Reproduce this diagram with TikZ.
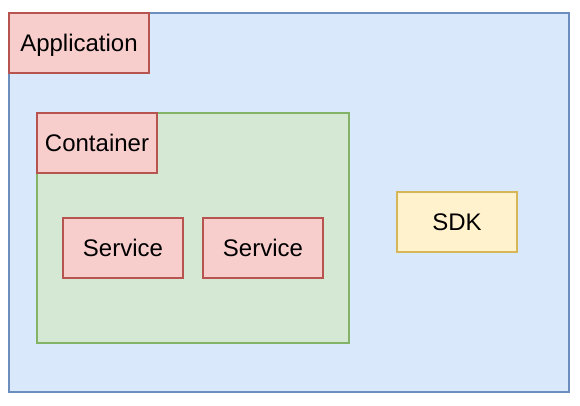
\documentclass[tikz,border=0pt]{standalone}
\usepackage{fontspec}
\setmainfont{Liberation Sans}
\usetikzlibrary{positioning}
\definecolor{blueFill}{HTML}{DAE8FC}
\definecolor{blueLine}{HTML}{6C8EBF}
\definecolor{redFill}{HTML}{F8CECC}
\definecolor{redLine}{HTML}{B85450}
\definecolor{greenFill}{HTML}{D5E8D4}
\definecolor{greenLine}{HTML}{82B366}
\definecolor{yellowFill}{HTML}{FFF2CC}
\definecolor{yellowLine}{HTML}{D6B656}

\begin{document}
\begin{tikzpicture}[x=1pt,y=-1pt,
  box/.style={draw,line width=2pt,inner sep=0pt,outer sep=0pt,minimum width=120pt,minimum height=60pt,
    font=\fontsize{24}{28}\selectfont,text height=17pt,text depth=0pt,anchor=north west},
  redbox/.style={box,draw=redLine,fill=redFill}]
  \useasboundingbox (0,0) rectangle (580,406);
  % アプリケーション全体
  \node[box,draw=blueLine,fill=blueFill,minimum width=560pt,minimum height=379pt] (app) at (9,13) {};
  \node[redbox,minimum width=140pt] (appLabel) at (9,13) {Application};
  % コンテナ
  \node[box,draw=greenLine,fill=greenFill,minimum width=312pt,minimum height=230pt] (container) at (37,113) {};
  \node[redbox] (containerLabel) at (37,113) {Container};
  % サービス
  \node[redbox] (serviceA) at (63,218) {Service};
  \node[redbox] (serviceB) at (203,218) {Service};
  % SDK
  \node[box,draw=yellowLine,fill=yellowFill] (sdk) at (397,192) {SDK};
\end{tikzpicture}
\end{document}
